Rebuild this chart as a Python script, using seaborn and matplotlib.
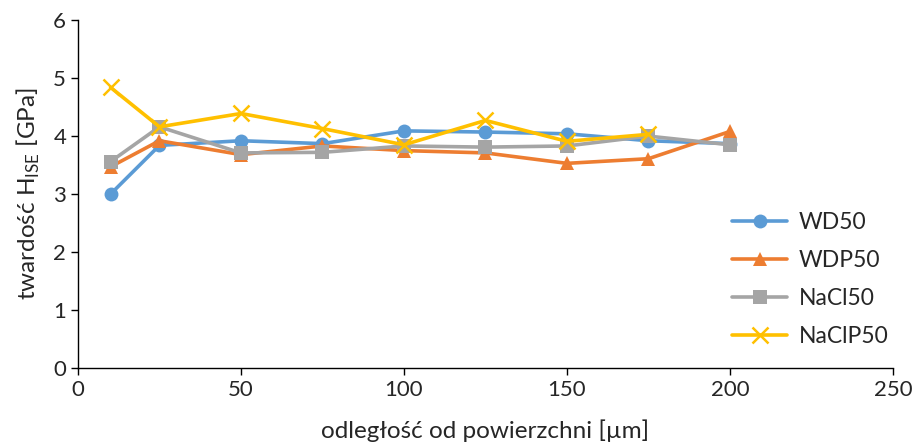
import pandas as pd
import matplotlib
matplotlib.use("Agg")
import matplotlib.pyplot as plt
import seaborn as sns

# Dane
glebokosc = [10, 25, 50, 75, 100, 125, 150, 175, 200]
wd50 = [3.0, 3.84, 3.92, 3.87, 4.09, 4.07, 4.04, 3.92, 3.87]
wdp50 = [3.47, 3.92, 3.68, 3.83, 3.75, 3.71, 3.53, 3.61, 4.08]
nacl50 = [3.56, 4.16, 3.71, 3.72, 3.83, 3.81, 3.83, 4.0, 3.85]
naclp50 = [4.84, 4.16, 4.39, 4.13, 3.85, 4.27, 3.91, 4.03]

serie = {"WD50": wd50, "WDP50": wdp50, "NaCl50": nacl50, "NaClP50": naclp50}
kolory = {"WD50": "#5B9BD5", "WDP50": "#ED7D31", "NaCl50": "#A5A5A5", "NaClP50": "#FFC000"}
znaczniki = {"WD50": "o", "WDP50": "^", "NaCl50": "s", "NaClP50": "x"}

rows = []
for nazwa, wartosci in serie.items():
    for x, y in zip(glebokosc, wartosci):
        rows.append({"x": x, "y": y, "seria": nazwa})
df = pd.DataFrame(rows)

sns.set_style("ticks")
plt.rcParams["font.family"] = ["Lato", "DejaVu Sans"]
plt.rcParams["mathtext.fontset"] = "custom"
plt.rcParams["mathtext.rm"] = "Lato"

fig = plt.figure(figsize=(9.13, 4.48), dpi=100)
ax = fig.add_axes([0.0854, 0.1786, 0.8926, 0.7764])

for nazwa in serie:
    d = df[df["seria"] == nazwa]
    krzyz = nazwa == "NaClP50"
    sns.lineplot(data=d, x="x", y="y", ax=ax, color=kolory[nazwa], marker=znaczniki[nazwa],
                 markersize=11 if krzyz else 10, markeredgewidth=1.8 if krzyz else 0,
                 markeredgecolor=kolory[nazwa], linewidth=2.6, label=nazwa)

ax.set_xlim(0, 250)
ax.set_ylim(0, 6)
ax.set_xticks([0, 50, 100, 150, 200, 250])
ax.set_yticks([0, 1, 2, 3, 4, 5, 6])
ax.tick_params(labelsize=16, length=5, width=1, color="black", labelcolor="#262626")
for s in ["left", "bottom"]:
    ax.spines[s].set_color("black")
    ax.spines[s].set_linewidth(1)
sns.despine(ax=ax)

ax.set_xlabel("odległość od powierzchni [µm]", fontsize=17.5, color="#262626", labelpad=14)
ax.set_ylabel("twardość H$_{\\mathrm{ISE}}$ [GPa]", fontsize=17.5, color="#262626", labelpad=8)

ax.legend(loc="lower right", bbox_to_anchor=(1.02, 0.0), frameon=False, fontsize=16.5,
          handlelength=2.4, labelspacing=0.75, handletextpad=0.5)

fig.savefig("out.png", dpi=100)
